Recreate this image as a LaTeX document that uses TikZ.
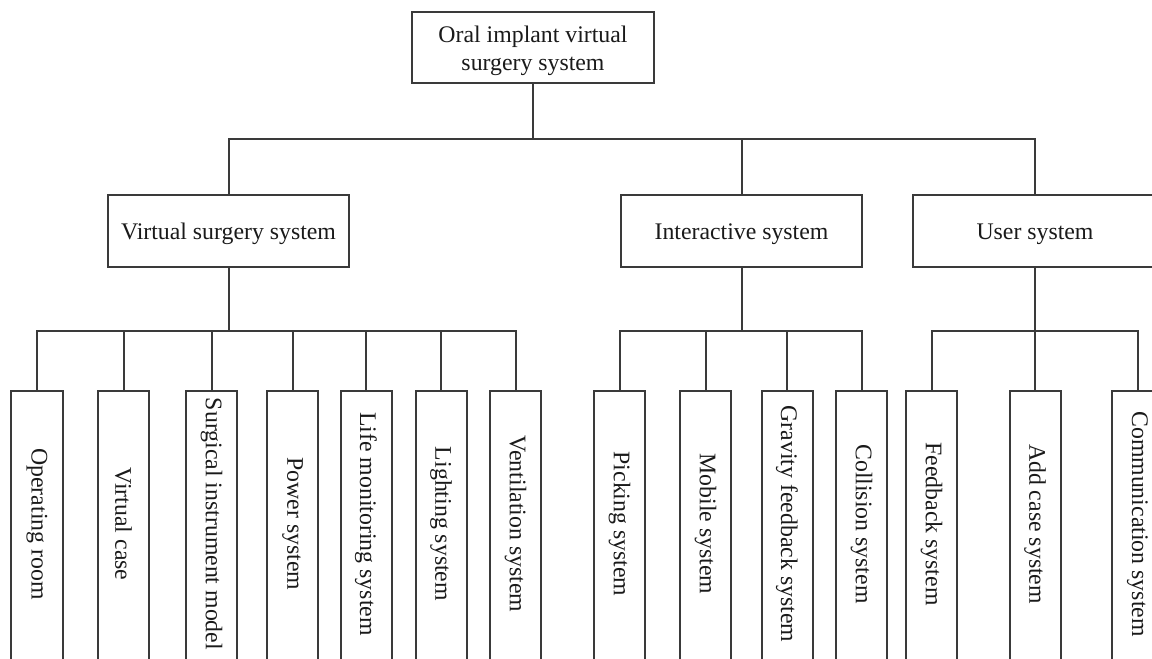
\documentclass[tikz,border=0pt]{standalone}
\usepackage{fontspec}
\setmainfont{Liberation Serif}
\definecolor{linec}{HTML}{3A3A3A}
\definecolor{txtc}{HTML}{1A1A1A}
\newcommand\lowertext[1]{\raisebox{-3bp}[\height][\depth]{#1}}
\begin{document}
\begin{tikzpicture}[x=1bp,y=-1bp,
  every node/.style={font=\fontsize{23.8bp}{28bp}\selectfont, text=txtc},
  hbox/.style={draw=linec, line width=2bp, fill=white, inner sep=0pt,
    minimum width=241bp, minimum height=72bp},
  vbox/.style={draw=linec, line width=2bp, fill=white, inner sep=0pt, rotate=-90,
    minimum width=279bp, minimum height=51bp, execute at end node={\hspace*{13bp}}},
  conn/.style={draw=linec, line width=2bp}]
\fill[white] (0,0) rectangle (1152,659);
\useasboundingbox (0,0) rectangle (1152,659);

% top
\node[hbox, minimum width=242bp, minimum height=71bp] (top) at (533,47.5)
  {\lowertext{\begin{tabular}{@{}c@{}}Oral implant virtual\\surgery system\end{tabular}}};

% middle
\node[hbox] (vss) at (228.5,231) {\lowertext{Virtual surgery system}};
\node[hbox] (inter) at (741.5,231) {\lowertext{Interactive system}};
\node[hbox, minimum width=244bp] (user) at (1035,231) {\lowertext{User system}};

% bottom
\node[vbox] (or) at (37,530.5) {Operating room};
\node[vbox] (vc) at (123.5,530.5) {Virtual case};
\node[vbox] (sim) at (211.5,530.5) {Surgical instrument model};
\node[vbox] (pow) at (292.5,530.5) {Power system};
\node[vbox] (life) at (366,530.5) {Life monitoring system};
\node[vbox] (light) at (441,530.5) {Lighting system};
\node[vbox] (vent) at (515.5,530.5) {Ventilation system};
\node[vbox] (pick) at (619.5,530.5) {Picking system};
\node[vbox] (mob) at (705.5,530.5) {Mobile system};
\node[vbox] (grav) at (787,530.5) {Gravity feedback system};
\node[vbox] (coll) at (861.5,530.5) {Collision system};
\node[vbox] (fb) at (931.5,530.5) {Feedback system};
\node[vbox] (add) at (1035,530.5) {Add case system};
\node[vbox] (comm) at (1137.5,530.5) {Communication system};

% junctions
\coordinate (jt) at (533,139);
\coordinate (jv) at (228.5,331);
\coordinate (ji) at (741.5,331);
\coordinate (ju) at (1035,331);

% top level connectors
\draw[conn] (top.south) -- (jt);
\draw[conn] (vss.north) |- (user.north |- jt) -- (user.north);
\draw[conn] (inter.north) -- (inter.north |- jt);

% virtual surgery group
\draw[conn] (vss.south) -- (jv);
\draw[conn] (or.west) |- (vent.west |- jv) -- (vent.west);
\foreach \n in {vc,sim,pow,life,light} \draw[conn] (\n.west) -- (\n.west |- jv);

% interactive group
\draw[conn] (inter.south) -- (ji);
\draw[conn] (pick.west) |- (coll.west |- ji) -- (coll.west);
\foreach \n in {mob,grav} \draw[conn] (\n.west) -- (\n.west |- ji);

% user group
\draw[conn] (user.south) -- (ju);
\draw[conn] (fb.west) |- (comm.west |- ju) -- (comm.west);
\draw[conn] (add.west) -- (add.west |- ju);
\end{tikzpicture}
\end{document}
